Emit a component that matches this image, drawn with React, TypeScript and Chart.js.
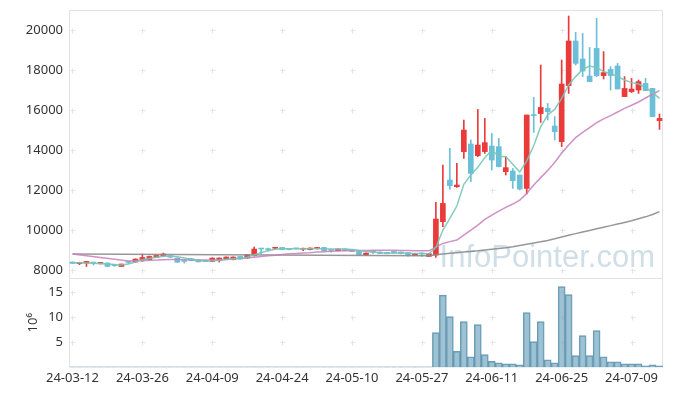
import React, { useEffect, useRef } from 'react';
import { Chart, registerables } from 'chart.js';
Chart.register(...registerables);

const dates = [
  '24-03-12','24-03-13','24-03-14','24-03-15','24-03-18','24-03-19','24-03-20','24-03-21','24-03-22','24-03-25',
  '24-03-26','24-03-27','24-03-28','24-03-29','24-04-01','24-04-02','24-04-03','24-04-04','24-04-05','24-04-08',
  '24-04-09','24-04-11','24-04-12','24-04-15','24-04-16','24-04-17','24-04-18','24-04-19','24-04-22','24-04-23',
  '24-04-24','24-04-25','24-04-26','24-04-29','24-04-30','24-05-02','24-05-03','24-05-07','24-05-08','24-05-09',
  '24-05-10','24-05-13','24-05-14','24-05-16','24-05-17','24-05-20','24-05-21','24-05-22','24-05-23','24-05-24',
  '24-05-27','24-05-28','24-05-29','24-05-30','24-05-31','24-06-03','24-06-04','24-06-05','24-06-07','24-06-10',
  '24-06-11','24-06-12','24-06-13','24-06-14','24-06-17','24-06-18','24-06-19','24-06-20','24-06-21','24-06-24',
  '24-06-25','24-06-26','24-06-27','24-06-28','24-07-01','24-07-02','24-07-03','24-07-04','24-07-05','24-07-08',
  '24-07-09','24-07-10','24-07-11','24-07-12','24-07-15',
];

const openP = [
  8400,8320,8350,8360,8330,8350,8230,8180,8390,8400,
  8500,8520,8630,8720,8720,8600,8440,8570,8500,8440,
  8430,8480,8550,8520,8680,8600,8730,9060,9030,9090,
  9130,9080,9070,9040,9020,9070,9130,8990,8970,9050,
  9020,8930,8770,8910,8900,8880,8930,8900,8870,8730,
  8850,8680,8750,10420,12500,12170,13920,14300,13720,13920,
  14200,14170,12920,12950,12750,12080,15770,15820,16080,15200,
  14420,17220,19450,18550,17700,19080,17720,18030,18200,16670,
  16920,17000,17330,17080,15470,
];
const highP = [
  8410,8390,8440,8370,8360,8360,8250,8300,8430,8560,
  8800,8700,8750,8850,8730,8610,8480,8580,8510,8460,
  8610,8610,8660,8660,8690,8780,9150,9060,9100,9130,
  9140,9090,9080,9100,9110,9140,9140,9050,9060,9060,
  9030,8940,8860,8930,8910,8890,8940,8910,8880,8830,
  8860,8830,11380,13250,14080,13330,15500,14500,16030,15580,
  14830,14580,13670,13080,12750,15750,16630,18250,16330,15670,
  18500,20700,19880,19830,19130,20580,18920,18170,18330,17670,
  17580,17500,17580,17080,15800,
];
const lowP = [
  8320,8270,8180,8250,8300,8170,8180,8170,8320,8390,
  8430,8500,8620,8670,8630,8380,8350,8460,8400,8420,
  8420,8400,8540,8510,8540,8590,8690,8800,8950,9020,
  9010,9010,9040,8970,9010,9060,8960,8900,8960,8960,
  8920,8760,8730,8820,8820,8810,8840,8810,8700,8720,
  8680,8670,8630,10170,12030,12130,13580,12420,13670,13830,
  13000,13150,12750,12080,12000,11800,14880,15380,15500,14500,
  14170,16830,18250,17670,17420,17670,17550,17000,17050,16670,
  16870,16830,16970,15670,15030,
];
const closeP = [
  8330,8380,8430,8350,8350,8180,8220,8300,8380,8550,
  8630,8680,8730,8800,8640,8390,8430,8470,8410,8430,
  8600,8600,8650,8650,8550,8770,9050,9050,9020,9100,
  9020,9020,9060,9050,9100,9130,8970,8980,9050,8970,
  8930,8770,8850,8900,8830,8820,8850,8820,8770,8820,
  8800,8820,10550,11330,12220,12250,15000,12830,14250,14370,
  13500,13170,13120,12470,12050,15750,15720,16130,15920,14920,
  17300,19450,18330,17950,17420,17720,17870,17720,17050,17080,
  17050,17420,16970,15670,15580,
];

// volume in millions of shares
const volume = [
  0.06,0.05,0.06,0.05,0.05,0.05,0.05,0.05,0.06,0.06,
  0.07,0.06,0.06,0.06,0.05,0.06,0.05,0.05,0.05,0.05,
  0.05,0.05,0.05,0.05,0.05,0.05,0.08,0.06,0.06,0.05,
  0.05,0.05,0.05,0.05,0.05,0.05,0.05,0.05,0.05,0.05,
  0.05,0.05,0.05,0.05,0.05,0.04,0.04,0.04,0.05,0.04,
  0.05,0.06,6.93,14.4,10.1,3.2,9.13,2.13,8.53,2.53,
  1.2,0.93,0.73,0.73,0.53,10.9,5.13,9.13,1.53,0.93,
  16.1,14.5,2.33,6.33,2.33,7.33,2.13,1.13,1.13,0.73,
  0.73,0.73,0.33,0.53,0.33,
];

const ma5 = [
  8370,8360,8350,8340,8320,8300,8280,8250,8300,8400,
  8520,8580,8640,8690,8700,8660,8600,8540,8470,8450,
  8460,8490,8530,8570,8600,8640,8760,8880,8960,9040,
  9070,9060,9060,9060,9060,9070,9060,9050,9050,9050,
  9030,8980,8930,8900,8870,8850,8850,8850,8840,8830,
  8830,8810,9120,10000,10580,11200,12290,12750,13140,13620,
  14000,13680,13680,13290,12900,13460,14210,15170,15750,16030,
  16580,17250,17670,18030,18200,18130,17920,17830,17670,17500,
  17370,17300,17130,16870,16580,
];
const ma20 = [
  8800,null,null,null,null,null,null,null,8450,8460,
  8470,8490,8500,8520,8530,8530,8520,8510,8500,8500,
  8500,8510,8530,8550,8580,8610,8640,8680,8710,8740,
  8780,8810,8830,8850,8870,8900,8920,8940,8950,8960,
  8970,8980,8980,8990,8990,8990,8990,8980,8980,8970,
  8960,8960,9150,9330,9420,9500,9750,10000,10250,10530,
  10750,10950,11130,11300,11500,11830,12250,12620,12980,13380,
  13850,14250,14620,14880,15120,15370,15560,15720,15900,16080,
  16240,16400,16600,16790,16970,
];
const ma60 = [
  8800,null,null,null,null,null,null,null,null,null,
  null,null,null,null,null,null,null,null,null,null,
  null,null,null,null,null,null,null,null,null,null,
  null,null,null,null,null,null,null,null,null,null,
  null,null,null,null,null,null,null,null,null,null,
  8710,8720,8760,8800,8840,8870,8900,8930,8960,9000,
  9040,9080,9120,9170,9230,9290,9350,9410,9480,9560,
  9650,9740,9820,9900,9980,10060,10140,10220,10300,10380,
  10460,10560,10660,10780,10920,
];

const priceTicks = [8000, 10000, 12000, 14000, 16000, 18000, 20000];
const volTicks = [5, 10, 15];

const UP = '#ea3a3a';
const DOWN = '#6cbfd8';
const FONT = "'Noto Sans', sans-serif";

const decor = {
  id: 'decor',
  beforeDatasetsDraw(chart: any) {
    const { ctx, chartArea, scales } = chart;
    const x = scales.x, y = scales.y, yv = scales.yVol;
    ctx.save();
    // watermark
    ctx.font = "31px 'Liberation Sans', sans-serif";
    ctx.fillStyle = 'rgba(175,200,215,0.6)';
    ctx.textAlign = 'right';
    ctx.textBaseline = 'alphabetic';
    ctx.fillText('InfoPointer.com', chartArea.right - 8, y.bottom - 11);
    // grid crosses
    ctx.strokeStyle = '#e4e4e4';
    ctx.lineWidth = 1;
    const xs: number[] = [];
    for (let i = 0; i < dates.length; i += 10) xs.push(Math.round(x.getPixelForValue(i)) + 0.5);
    const ys: number[] = [];
    y.ticks.forEach((t: any) => ys.push(Math.round(y.getPixelForValue(t.value)) + 0.5));
    yv.ticks.forEach((t: any) => ys.push(Math.round(yv.getPixelForValue(t.value)) + 0.5));
    ctx.beginPath();
    for (const px of xs) {
      for (const py of ys) {
        ctx.moveTo(px - 2, py); ctx.lineTo(px + 3, py);
        ctx.moveTo(px, py - 2); ctx.lineTo(px, py + 3);
      }
    }
    ctx.stroke();
    // frame
    ctx.strokeStyle = '#e2e2e2';
    ctx.beginPath();
    ctx.rect(Math.round(chartArea.left) + 0.5, Math.round(chartArea.top) + 0.5,
      Math.round(chartArea.right - chartArea.left) - 1, Math.round(chartArea.bottom - chartArea.top) - 1);
    const sy = Math.round(yv.top) + 0.5;
    ctx.moveTo(chartArea.left, sy); ctx.lineTo(chartArea.right, sy);
    ctx.stroke();
    ctx.restore();
  },
};

const noPad = (s: any) => { s.width = 61; s.paddingTop = 0; s.paddingBottom = 0; };

export default function App() {
  const ref = useRef<HTMLCanvasElement>(null);
  useEffect(() => {
    const colors = closeP.map((c, i) => (c >= openP[i] ? UP : DOWN));
    const chart = new Chart(ref.current as HTMLCanvasElement, {
      type: 'bar',
      data: {
        labels: dates,
        datasets: [
          { type: 'line', label: 'MA5', data: ma5, yAxisID: 'y', borderColor: 'rgba(120,198,182,0.9)', borderWidth: 1.5, pointRadius: 0, spanGaps: true, order: 0 } as any,
          { type: 'line', label: 'MA20', data: ma20, yAxisID: 'y', borderColor: 'rgba(200,125,190,0.85)', borderWidth: 1.5, pointRadius: 0, spanGaps: true, order: 0 } as any,
          { type: 'line', label: 'MA60', data: ma60, yAxisID: 'y', borderColor: 'rgba(140,140,140,0.9)', borderWidth: 1.5, pointRadius: 0, spanGaps: true, order: 0 } as any,
          { type: 'bar', label: 'HL', data: lowP.map((l, i) => [l, highP[i]]), yAxisID: 'y', backgroundColor: colors, barThickness: 1, grouped: false, order: 2 } as any,
          { type: 'bar', label: 'OC', data: openP.map((o, i) => [o, closeP[i]]), yAxisID: 'y', backgroundColor: colors, barThickness: 5, minBarLength: 1, grouped: false, order: 1 } as any,
          { type: 'bar', label: 'Volume', data: volume, yAxisID: 'yVol', backgroundColor: 'rgba(120,170,195,0.72)', borderColor: 'rgba(90,145,170,0.9)', borderWidth: 1, barPercentage: 1, categoryPercentage: 1, grouped: false, order: 3 } as any,
        ],
      },
      options: {
        responsive: true,
        maintainAspectRatio: false,
        animation: false,
        layout: { padding: { top: 2, right: 2, left: 0, bottom: 2 } },
        plugins: { legend: { display: false }, tooltip: { enabled: false } },
        scales: {
          x: {
            offset: true,
            grid: { display: false, drawTicks: false },
            border: { display: false },
            ticks: {
              autoSkip: false, maxRotation: 0, padding: 3, color: '#333',
              font: { family: FONT, size: 13 },
              callback: (_v: any, i: number) => (i % 10 === 0 ? dates[i] : ''),
            },
          },
          yVol: {
            stack: 'main', stackWeight: 1, position: 'left', min: 0, max: 17.8,
            grid: { display: false, drawTicks: false }, border: { display: false },
            afterBuildTicks: (s: any) => { s.ticks = volTicks.map((v) => ({ value: v })); },
            afterFit: noPad,
            ticks: { padding: 6, color: '#333', font: { family: FONT, size: 13 } },
            title: { display: true, text: '10⁶', color: '#333', font: { family: FONT, size: 13 }, padding: { top: 17, bottom: 0 } },
          },
          y: {
            stack: 'main', stackWeight: 3, position: 'left', min: 7600, max: 21000,
            grid: { display: false, drawTicks: false }, border: { display: false },
            afterBuildTicks: (s: any) => { s.ticks = priceTicks.map((v) => ({ value: v })); },
            afterFit: noPad,
            ticks: { padding: 6, color: '#333', font: { family: FONT, size: 13 }, callback: (v: any) => String(v) },
          },
        } as any,
      },
      plugins: [decor],
    });
    return () => chart.destroy();
  }, []);
  return (
    <div style={{ width: 657, height: 383 }}>
      <canvas ref={ref} />
    </div>
  );
}
